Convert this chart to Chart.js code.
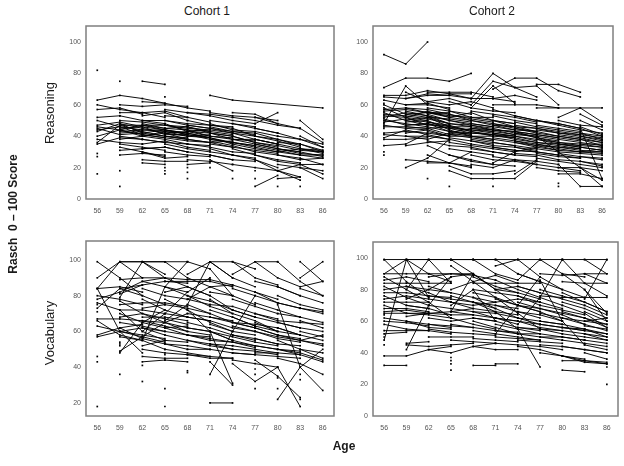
<!DOCTYPE html>
<html><head><meta charset="utf-8">
<script src="https://cdn.jsdelivr.net/npm/chart.js@4"></script>
<style>
body{margin:0;width:624px;height:466px;background:#fff;position:relative;overflow:hidden;font-family:"Liberation Sans",Arial,sans-serif}
canvas.p{position:absolute}
.t{position:absolute;white-space:nowrap;color:#1a1a1a;transform:translate(-50%,-50%)}
.r{transform:translate(-50%,-50%) rotate(-90deg)}
</style></head><body>
<script>
// Ages at which waves were measured (x tick labels)
const ages = [56,59,62,65,68,71,74,77,80,83,86];
const reasoningTicks = [0,20,40,60,80,100];
const vocabC1Ticks = [20,40,60,80,100];
const vocabC2Ticks = [0,20,40,60,80,100];

// Each trajectory: flat list of age,score pairs for one person
const reasoningC1 = [
[56,63,59,66,62,64,65,61],[56,60,59,57,62,55,65,52],[56,57,59,58,62,54],[56,52,59,53,62,50,65,48],
[56,50,59,46,62,44],[56,47,59,49,62,46,65,44],[56,45,59,41,62,42],[56,43,59,48,62,45],
[56,40,59,44,62,40,65,38],[56,38,59,36,62,35],[56,36,59,47,62,43],[56,35,59,39,62,38],
[56,46,59,44,62,47,65,45],[56,44,59,46,62,41],
[56,82],[56,29],[56,27],[56,16],
[59,60,62,59,65,60,68,59],[59,55,62,55,65,56,68,52],[59,50,62,49,65,47,68,46],[59,48,62,42,65,44,68,41],
[59,45,62,46,65,41],[59,42,62,43,65,40,68,39],[59,40,62,38,65,36],[59,38,62,40,65,42,68,38],
[59,35,62,33,65,31],[59,33,62,30,65,27],[59,31,62,32,65,33,68,30],[59,28,62,29,65,28],
[59,47,62,47,65,44,68,42],[59,44,62,41,65,39],[59,43,62,44,65,43,68,40],
[59,75],[59,18],[59,8],[59,53],
[62,75,65,73],[62,62,65,61,68,58,71,56],[62,53,65,55,68,50],[62,50,65,50,68,47,71,45],
[62,48,65,45,68,44],[62,45,65,42,68,43,71,40],[62,42,65,40,68,38],[62,40,65,43,68,42,71,39],
[62,38,65,36,68,35],[62,35,65,37,68,33,71,31],[62,32,65,33,68,30],[62,25,65,24,68,24],
[62,23,65,22],[62,30,65,26,68,27],[62,47,65,47,68,45,71,44],[62,44,65,44,68,41],[62,41,65,39,68,37,71,36],
[65,57,68,55,71,54,74,52],[65,53,68,52,71,49],[65,50,68,48,71,47,74,45],[65,47,68,44,71,43],
[65,45,68,46,71,42,74,40],[65,42,68,40,71,41],[65,40,68,38,71,36,74,37],[65,38,68,35,71,34],
[65,35,68,32,71,30,74,28],[65,30,68,28,71,27],[65,48,68,43,71,44,74,42],[65,44,68,42,71,39],
[65,41,68,41,71,39,74,36],[65,65],[65,18],[65,16],[65,20],
[68,55,71,53,74,50,77,48],[68,50,71,47,74,46],[68,47,71,45,74,43,77,41],[68,44,71,40,74,39],
[68,41,71,38,74,36,77,34],[68,38,71,36,74,33],[68,35,71,33,74,30,77,29],[68,30,71,28,74,25],
[68,25,71,24,74,22],[68,22,71,23],[68,46,71,43,74,41],[68,43,71,42,74,38,77,37],[68,40,71,39,74,35],
[68,17],[68,13],[68,20],
[71,66,74,63,86,58],[71,55,74,53,77,52,80,50],[71,50,74,48,77,46],[71,48,74,44,77,43,80,40],
[71,45,74,42,77,40],[71,42,74,40,77,36,80,34],[71,38,74,36,77,33],[71,35,74,33,77,31,80,29],
[71,32,74,28,77,26],[71,28,74,25,77,24],[71,25,74,18],[71,46,74,43,77,42],[71,40,74,38,77,38,80,35],
[71,37,74,34,77,30],[71,20],
[74,55,77,54,80,48],[74,52,77,50,80,47,83,45],[74,48,77,45,80,42],[74,45,77,40,80,38,83,35],
[74,42,77,38,80,35],[74,38,77,35,80,32,83,30],[74,35,77,32,80,30],[74,32,77,28,80,25,83,23],
[74,28,77,25,80,20],[74,22,77,20,80,18,83,14],[74,40,77,36,80,33],[74,36,77,34,80,31,83,28],[74,13],
[77,52,80,48,83,45],[77,48,80,55],[77,45,80,42,83,38,86,35],[77,42,80,38,83,34],
[77,38,80,35,83,32,86,30],[77,35,80,32,83,30],[77,30,80,28,83,25,86,26],[77,28,80,24,83,22],
[77,25,80,18,83,12],[77,8,80,15],[77,40,80,37,83,33],[77,33,80,30,83,28,86,28],[77,13],[77,18],
[80,40,83,38,86,33],[80,36,83,35,86,31],[80,32,83,29,86,28],[80,28,83,26,86,22],
[80,22,83,20,86,18],[80,18,83,22,86,16],[80,13,83,14],[80,34,83,31,86,30],[80,30,83,32,86,31],[80,8],
[83,50,86,38],[83,45,86,36],[83,40,86,33],[83,35,86,30],[83,28,86,26],[83,22,86,22],[83,20,86,13],
[83,32,86,29],[83,30,86,27],[83,8]
];

const reasoningC2 = [
[56,92,59,86,62,100],[56,71,59,77,62,77,65,75,68,80],[56,66,59,66,62,69,65,67,68,67],[56,65,59,64,62,67,65,66],
[56,63,59,60,62,60,65,58],[56,48,59,72,62,60],[56,60,59,54,62,55,65,52],[56,58,59,52,62,50],
[56,56,59,57,62,55,65,55],[56,55,59,50,62,52,65,48],[56,53,59,52,62,47],[56,52,59,55,62,53,65,50],
[56,50,59,48,62,46],[56,49,59,51,62,49,65,46],[56,47,59,45,62,44],[56,42,59,43,62,42,65,40],
[56,41,59,40,62,40],[56,39,59,44,62,41,65,38],[56,38,59,38,62,39],[56,34,59,35,62,42],
[56,57,59,58,62,57,65,54],[56,54,59,53,62,51],[56,51,59,47,62,48,65,45],[56,46,59,46,62,45],
[56,30],[56,28],[56,45],[56,61],
[59,68,62,62,65,64,68,60],[59,64,62,66,65,66,68,64],[59,60,62,61,65,57],[59,58,62,55,65,53,68,52],
[59,56,62,53,65,48],[59,52,62,56,65,52,68,50],[59,49,62,50,65,44],[59,46,62,45,65,46,68,43],
[59,42,62,44,65,40],[59,40,62,38,65,42,68,40],[59,34,62,36,65,37],[59,25,62,24,65,23,68,20],
[59,20,62,26,65,38],[59,54,62,52,65,51,68,49],[59,50,62,47,65,47],[59,47,62,48,65,43,68,42],[62,13],
[62,68,65,68,68,68,71,65],[62,62,65,60,68,62,71,58],[62,58,65,56,68,54],[62,54,65,50,68,48,71,46],
[62,51,65,48,68,47],[62,48,65,45,68,44,71,43],[62,46,65,43,68,41],[62,43,65,40,68,40,71,38],
[62,40,65,38,68,35],[62,37,65,34,68,33,71,30],[62,34,65,28,68,25],[62,28,65,23,68,21],[62,23,65,23,68,30],
[62,55,65,54,68,51,71,49],[62,52,65,46,68,46],[62,49,65,47,68,43,71,41],[62,45,65,41,68,42],
[65,67,68,64,71,64,74,62],[65,62,68,58,71,56,74,55],[65,56,68,52,71,52],[65,52,68,55,71,50,74,48],
[65,50,68,47,71,45],[65,46,68,44,71,42,74,40],[65,44,68,40,71,40],[65,42,68,45,71,43,74,41],
[65,39,68,37,71,35],[65,36,68,34,71,32,74,30],[65,32,68,30,71,28],[65,28,68,24,71,22],
[65,21,68,16,71,16,74,18],[65,18,68,13,71,13,74,13,77,24],[65,54,68,50,71,48,74,46],[65,48,68,46,71,44],
[65,45,68,42,71,41,74,39],[65,41,68,39,71,37],[65,8],[71,8],
[68,64,71,80,74,71,77,65],[68,60,71,75,74,71,77,72,80,60],[68,58,71,72,74,61],[68,56,71,54,74,52,77,49],
[68,52,71,50,74,48],[68,50,71,47,74,46,77,43],[68,48,71,46,74,44],[68,45,71,44,74,41,77,40],
[68,43,71,40,74,39],[68,40,71,38,74,36,77,34],[68,38,71,36,74,34],[68,35,71,33,74,31,77,30],
[68,32,71,30,74,28],[68,28,71,25,74,24,77,22],[68,25,71,22,74,21],[68,22,71,20,74,25],
[68,47,71,44,74,43,77,41],[68,42,71,41,74,40],[68,37,71,34,74,33,77,31],
[71,70,74,77,77,77,80,69,83,65],[71,64,74,66,77,63],[71,60,74,60,77,60,80,58],[71,57,74,53,77,50,80,47],
[71,53,74,50,77,48],[71,50,74,46,77,45,80,42],[71,48,74,45,77,42],[71,45,74,42,77,40,80,38],
[71,42,74,40,77,37],[71,39,74,37,77,35,80,32],[71,36,74,34,77,32],[71,33,74,31,77,30,80,28],
[71,30,74,28,77,27],[71,27,74,25,77,24,80,22],[71,23,74,30,77,33],
[71,47,74,44,77,43],[71,44,74,43,77,39,80,36],[71,41,74,38,77,36],
[74,53,77,50,80,48,83,45],[74,49,77,46,80,44],[74,45,77,43,80,40,83,38],[74,42,77,39,80,37],
[74,39,77,36,80,34,83,32],[74,36,77,33,80,31],[74,33,77,30,80,28,83,26],[74,29,77,28,80,25],
[74,25,77,22,80,20,83,18],[74,16,77,25],
[74,47,77,45,80,43,83,41],[74,43,77,41,80,39],[74,40,77,38,80,35,83,34],[74,37,77,34,80,33],
[77,73,80,73,83,68],[77,58,80,58,83,58,86,58],[77,50,80,48,83,45,86,40],[77,47,80,45,83,43],
[77,44,80,42,83,40,86,38],[77,41,80,39,83,37],[77,38,80,36,83,35,86,33],[77,35,80,33,83,32],
[77,32,80,30,83,29,86,28],[77,29,80,27,83,26],[77,26,80,24,83,22,86,20],[77,40,80,30,83,20,86,8],
[77,20,80,18,83,17],[77,42,80,40,83,38,86,36],[77,36,80,35,83,33],[77,34,80,31,83,30,86,30],[80,8],[80,10],
[80,52,83,58,86,49],[80,50,83,47,86,46],[80,47,83,44,86,42],[80,44,83,42,86,40],
[80,41,83,39,86,36],[80,38,83,36,86,34],[80,35,83,33,86,31],[80,32,83,30,86,29],
[80,29,83,27,86,25],[80,25,83,24,86,22],[80,22,83,8,86,8],[80,20,83,20,86,18],[80,16,83,16,86,13],
[80,42,83,41,86,39],[80,36,83,34,86,33],[80,33,83,31,86,30],
[83,54,86,47],[83,50,86,44],[83,46,86,41],[83,40,86,37],[83,35,86,35],[83,30,86,32],
[83,27,86,26],[83,24,86,21],[83,45,86,13],[83,20,86,12],[83,42,86,38],[83,38,86,34],[83,33,86,31]
];

const vocabularyC1 = [
[56,99,59,90,62,80],[56,90,59,99,62,99,65,99],[56,84,59,99,62,90],[56,84,59,85,62,82],
[56,80,59,78,62,75],[56,78,59,82,62,88,65,90],[56,76,59,72,62,60,65,55],[56,73,59,84,62,86],
[56,67,59,67,62,66,65,65],[56,66,59,58,62,55],[56,63,59,60,62,58,65,56],[56,58,59,62,62,64],
[56,57,59,60,62,57,65,54],[56,84,59,60,62,48],
[56,46],[56,43],[56,18],[56,71],[56,75],
[59,99,62,99,65,99,68,99],[59,89,62,90,65,90,68,89,71,89],[59,84,62,80,65,75],[59,81,62,86,65,88,68,87],
[59,77,62,70,65,65,68,60],[59,75,62,76,65,76,68,74],[59,72,62,72,65,70],[59,70,62,65,65,62,68,63],
[59,65,62,63,65,60],[59,62,62,56,65,53,68,50],[59,60,62,62,65,58],[59,57,62,55,65,50],
[59,49,62,57,65,65,68,70],[59,48,62,65,65,72],[59,79,62,99,65,92],[59,68,62,70,65,67,68,64],
[59,36],[59,54],[59,53],[59,52],
[62,99,65,90,68,85,71,80],[62,88,65,85,68,82],[62,84,65,80,68,78,71,75],[62,78,65,72,68,68],
[62,73,65,75,68,73,71,70],[62,68,65,68,68,66],[62,62,65,60,68,58,71,56],[62,55,65,85,68,99],
[62,52,65,55,68,54],[62,50,65,48,68,47,71,46],[62,46,65,45,68,45],[62,43,65,44,68,43],
[62,60,65,70,68,82,71,90],[62,66,65,63,68,60,71,58],[62,41],[62,32],
[65,99,68,90,71,85,74,80],[65,88,68,88,71,88,74,85],[65,82,68,85,71,80,74,72],[65,78,68,72,71,65,74,60],
[65,70,68,68,71,66],[65,65,68,62,71,60,74,55],[65,62,68,58,71,57],[65,58,68,55,71,53,74,52],
[65,53,68,52,71,50],[65,50,68,48,71,46,74,45],[65,66,68,75,71,99,74,90],[65,85,68,80,71,74,74,70],
[65,28],[65,18],[65,47],[65,44],
[68,99,71,95,74,80],[68,92,71,99,74,99,77,95],[68,80,71,77,74,72,77,68],[68,78,71,85,74,86],
[68,75,71,70,74,65,77,62],[68,70,71,68,74,66],[68,65,71,62,74,58,77,55],[68,62,71,60,74,55],
[68,58,71,55,74,54,77,52],[68,55,71,52,74,50],[68,50,71,50,74,48,77,47],[68,47,71,45,74,45],
[68,72,71,60,74,31],[68,68,71,66,74,62,77,60],[68,38],[68,37],
[71,89,74,86,77,82,80,78],[71,82,74,80,77,75],[71,78,74,70,77,66,80,60],[71,72,74,68,77,63],
[71,68,74,65,77,62,80,58],[71,64,74,60,77,58],[71,60,74,57,77,54,80,52],[71,56,74,54,77,51],
[71,53,74,50,77,49,80,47],[71,36,74,60,77,80],[71,20,74,20],[71,43,74,30],[71,99,74,90,77,85],
[71,75,74,74,77,70,80,67],
[74,99,77,90,80,86],[74,92,77,99,80,99],[74,84,77,80,80,76,83,73],[74,78,77,74,80,70],
[74,72,77,68,80,65,83,62],[74,68,77,63,80,60],[74,63,77,60,80,56,83,54],[74,58,77,56,80,53],
[74,55,77,52,80,50,83,49],[74,52,77,50,80,48],[74,48,77,47,80,46,83,45],[74,44,77,42,80,40],
[74,42,77,32,80,40],[74,65,77,64,80,62,83,58],[77,28],[77,36],[77,39],
[77,99,80,90,83,85,86,88],[77,88,80,85,83,80],[77,82,80,76,83,73,86,70],[77,76,80,72,83,68],
[77,70,80,66,83,65,86,64],[77,65,80,60,83,58],[77,60,80,57,83,55,86,58],[77,56,80,53,83,52],
[77,52,80,50,83,48,86,44],[77,48,80,48,83,47],[77,44,80,35,83,23],[77,62,80,58,83,56],
[80,99,83,88,86,80],[80,85,83,80,86,76],[80,80,83,75,86,72],[80,70,83,68,86,65],
[80,65,83,62,86,60],[80,62,83,58,86,55],[80,55,83,50,86,48],[80,50,83,47,86,43],
[80,45,83,42,86,36],[80,22,83,40,86,50],[80,75,83,40,86,27],[80,58,83,55,86,53],[80,28],[80,34],
[83,99,86,88],[83,90,86,99],[83,84,86,80],[83,73,86,71],[83,66,86,62],[83,60,86,57],
[83,55,86,52],[83,50,86,45],[80,40,83,18],[83,36],[83,33],[83,22]
];

const vocabularyC2 = [
[56,99,59,99,62,99,65,99,68,99],[56,99,59,85,62,75],[56,90,59,99,62,90,65,85],[56,90,59,90,62,90,65,90,68,90],
[56,88,59,80,62,72,65,62],[56,86,59,88,62,85],[56,84,59,84,62,84,65,84],[56,82,59,75,62,70],
[56,78,59,78,62,76,65,75],[56,76,59,70,62,68],[56,74,59,76,62,74,65,72],[56,72,59,72,62,72],
[56,70,59,65,62,64,65,62],[56,68,59,68,62,66],[56,66,59,67,62,65,65,64],[56,65,59,65,62,65],
[56,62,59,60,62,58,65,56],[56,60,59,59,62,57],[56,58,59,55,62,54,65,52],[56,54,59,54,62,54],
[56,52,59,53],[56,38,59,38,62,42,65,44],[56,32,59,32],[56,48,59,99,62,75],[56,80,59,82,62,80,65,78],
[56,45],[56,64],[56,50],
[59,99,62,99,65,99,68,99,71,99],[59,82,62,78,65,72,68,70],[59,80,62,99,65,84],[59,74,62,80,65,88,68,90],
[59,63,62,65,65,66,68,68],[59,46,62,47],[59,45,62,44,65,45,68,46],[59,42,62,70,65,88],[59,60,62,56,65,55],
[59,70,62,68,65,64,68,64],
[62,88,65,90,68,89,71,86],[62,82,65,78,68,75,71,72],[62,70,65,68,68,66,71,65],[62,62,65,60,68,62,71,60],
[62,58,65,57,68,56],[62,55,65,53,68,52,71,51],[62,42,65,40,68,44,71,46],[62,50,65,50,68,50],
[62,76,65,74,68,72,71,68],
[65,37],[65,33],[65,29],[65,35],
[65,99,68,90,71,80,74,70],[65,95,68,85,71,75,74,65,77,55],[65,99,68,99,71,99,74,99],[65,80,68,85,71,89,74,84],
[65,76,68,72,71,70,74,68],[65,70,68,80,71,60],[65,66,68,64,71,62,74,60],[65,62,68,58,71,55],
[65,58,68,56,71,54,74,53],[65,48,68,47,71,46],[65,66,68,90,71,80,74,78],[65,72,68,68,71,66,74,64],
[68,99,71,90,74,86,77,99],[68,88,71,82,74,78,77,74],[68,84,71,84,74,84,77,84],[68,78,71,75,74,70,77,66],
[68,75,71,68,74,62,77,58],[68,70,71,72,74,74,77,72],[68,66,71,62,74,58],[68,62,71,60,74,56,77,54],
[68,60,71,56,74,52],[68,54,71,52,74,50,77,48],[68,49,71,48,74,47],[68,44,71,42,74,42],
[68,32,71,32],[68,72,71,66,74,55,77,31],[68,80,71,78,74,76,77,70],
[71,99,74,90,77,85],[71,95,74,99,77,99,80,99],[71,86,74,80,77,75,80,70],[71,80,74,82,77,78],
[71,74,74,70,77,66,80,60],[71,70,74,66,77,62],[71,65,74,62,77,60,80,58],[71,58,74,55,77,52],
[71,54,74,52,77,50,80,48],[71,50,74,49,77,48],[71,46,74,45,77,44,80,42],[71,33,74,33],[71,52,74,70,77,88],
[71,62,74,60,77,56,80,54],
[74,99,77,88,80,80,83,75],[74,90,77,85,80,80],[74,82,77,78,80,74,83,70],[74,76,77,72,80,68],
[74,72,77,68,80,65,83,62],[74,66,77,64,80,60],[74,60,77,58,80,56,83,54],[74,56,77,55,80,52],
[74,52,77,52,80,50,83,48],[74,48,77,47,80,46],[74,44,77,42,80,38,83,35],[74,58,77,75,80,99],
[74,70,77,68,80,64,83,58],
[77,99,80,90,83,88],[77,90,80,89,83,90,86,90],[77,80,80,76,83,72,86,66],[77,76,80,75,83,75,86,75],
[77,70,80,67,83,64],[77,65,80,62,83,60,86,58],[77,60,80,58,83,55],[77,55,80,54,83,52,86,50],
[77,50,80,50,83,48],[77,45,80,44,83,42,86,40],[77,40,80,38,83,36],[77,86,80,60,83,45],
[77,58,80,56,83,54,86,52],
[80,99,83,99,86,99],[80,99,83,84,86,76],[80,90,83,80,86,60],[80,85,83,84,86,84],
[80,78,83,72,86,66],[80,72,83,68,86,62],[80,66,83,62,86,58],[80,62,83,58,86,54],
[80,56,83,55,86,52],[80,52,83,50,86,48],[80,48,83,46,86,44],[80,44,83,42,86,40],
[80,35,83,35,86,34],[80,29,83,28],[80,38,83,34,86,33],[80,70,83,65,86,56],
[83,99,86,90],[83,90,86,84],[83,80,86,65],[83,66,86,60],[83,60,86,62],[83,57,86,55],
[83,52,86,48],[83,48,86,46],[83,45,86,42],[83,40,86,36],[83,35,86,33],[83,74,86,99],
[83,70,86,64],[83,62,86,56],[83,55,86,50],
[86,20],[86,31]
];
</script>

<canvas class="p" id="c1" width="292" height="197" style="left:46px;top:22px"></canvas>
<canvas class="p" id="c2" width="284" height="197" style="left:333px;top:22px"></canvas>
<canvas class="p" id="c3" width="292" height="199" style="left:46px;top:237px"></canvas>
<canvas class="p" id="c4" width="289" height="198" style="left:333px;top:238px"></canvas>

<div class="t" style="left:207px;top:11px;font-size:12px">Cohort 1</div>
<div class="t" style="left:492px;top:11px;font-size:12px">Cohort 2</div>
<div class="t r" style="left:49px;top:113px;font-size:13px">Reasoning</div>
<div class="t r" style="left:49px;top:333px;font-size:13px">Vocabulary</div>
<div class="t r" style="left:13px;top:214px;font-size:12px;font-weight:bold">Rasch&nbsp; 0 – 100 Score</div>
<div class="t" style="left:344px;top:446px;font-size:12px;font-weight:bold">Age</div>

<script>
function toDatasets(trajs){
  return trajs.map(t=>{
    const pts=[];
    for(let i=0;i<t.length;i+=2) pts.push({x:t[i],y:t[i+1]});
    return {data:pts,borderColor:'#000',borderWidth:0.95,pointRadius:1.2,pointStyle:'rect',
      pointBackgroundColor:'#000',pointBorderColor:'#000',pointBorderWidth:0,fill:false,tension:0};
  });
}
const boxPlugin={id:'box',afterDraw(c){const a=c.chartArea,x=c.ctx;x.save();x.strokeStyle='#7f7f7f';x.lineWidth=1.5;
  x.strokeRect(a.left,a.top,a.right-a.left,a.bottom-a.top);x.restore();}};
function make(id,trajs,ymin,ymax,yt){
  new Chart(document.getElementById(id),{
    type:'line',
    data:{datasets:toDatasets(trajs)},
    plugins:[boxPlugin],
    options:{responsive:false,animation:false,events:[],
      layout:{padding:{top:4,right:4,left:0,bottom:0}},
      plugins:{legend:{display:false},tooltip:{enabled:false}},
      scales:{
        x:{type:'linear',min:54.5,max:87.5,grid:{display:false,drawTicks:false},border:{display:false},
          afterBuildTicks:s=>{s.ticks=ages.map(v=>({value:v}));},
          afterFit:s=>{s.height=20;s.paddingLeft=0;s.paddingRight=0;},
          ticks:{autoSkip:false,maxRotation:0,padding:8,color:'#555',font:{size:7,family:'Liberation Sans'}}},
        y:{type:'linear',min:ymin,max:ymax,grid:{display:false,drawTicks:false},border:{display:false},
          afterBuildTicks:s=>{s.ticks=yt.map(v=>({value:v}));},
          afterFit:s=>{s.width=40;s.paddingTop=0;s.paddingBottom=0;},
          ticks:{padding:5,color:'#555',font:{size:7,family:'Liberation Sans'}}}
      }}
  });
}
make('c1',reasoningC1,0,110.2,reasoningTicks);
make('c2',reasoningC2,0,110.2,reasoningTicks);
make('c3',vocabularyC1,12.7,110.6,vocabC1Ticks);
make('c4',vocabularyC2,0,110.1,vocabC2Ticks);
</script>
</body></html>
